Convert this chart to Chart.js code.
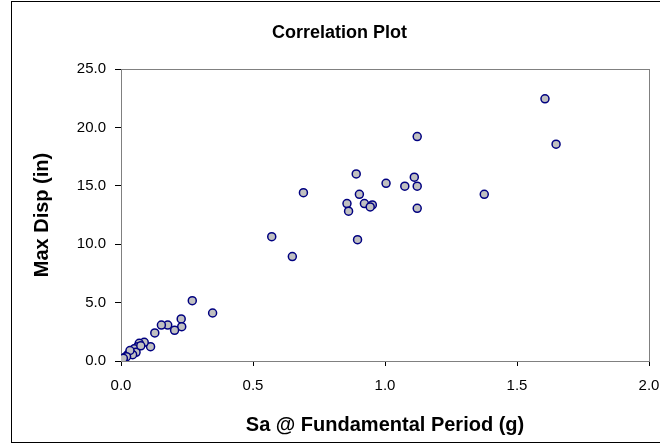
<!DOCTYPE html>
<html>
<head>
<meta charset="utf-8">
<script src="https://cdn.jsdelivr.net/npm/chart.js@4.4.1/dist/chart.umd.min.js"></script>
<style>
  html, body { margin: 0; padding: 0; background: #fff; }
  #wrap { width: 660px; height: 446px; position: relative; }
</style>
</head>
<body>
<div id="wrap"><canvas id="c"></canvas></div>
<script>
// Correlation plot: spectral acceleration vs. max displacement.
const FONT = "'Liberation Sans', Arial, Helvetica, sans-serif";
const INK = '#000000', FILL = '#C0C0C0', EDGE = '#000080', FRAME = '#808080';

const saValues = [
  1.606, 1.648, 1.122, 0.891, 1.111, 1.004, 0.691, 1.075, 1.122, 0.903,
  1.376, 0.856, 0.922, 0.952, 0.944, 0.862, 1.122, 0.571, 0.896, 0.649,
  0.270, 0.347, 0.228, 0.230, 0.203, 0.177, 0.153, 0.128, 0.112, 0.088,
  0.069, 0.063, 0.050, 0.057, 0.037, 0.026, 0.019, 0.011, 0.044, 0.034,
  0.021, 0.009, 0.075
];
const dispValues = [
  22.45, 18.57, 19.22, 16.02, 15.74, 15.22, 14.42, 14.97, 14.97, 14.28,
  14.28, 13.48, 13.48, 13.37, 13.20, 12.83, 13.08, 10.65, 10.39, 8.94,
  5.17, 4.11, 3.60, 2.94, 2.63, 3.08, 3.08, 2.40, 1.23, 1.60,
  1.52, 1.23, 1.05, 0.74, 0.66, 0.54, 0.37, 0.26, 0.54, 0.90,
  0.37, 0.23, 1.30
];
const xTicks = [0, 0.5, 1.0, 1.5, 2.0];
const yTicks = [0, 5, 10, 15, 20, 25];

// grey plot-area box + black outer frame (Excel look)
const framePlugin = {
  id: 'frames',
  beforeDatasetsDraw(chart) {
    const { ctx, chartArea: a } = chart;
    ctx.save();
    ctx.strokeStyle = FRAME; ctx.lineWidth = 1;
    ctx.strokeRect(Math.round(a.left) + 0.5, Math.round(a.top) + 0.5,
      Math.round(a.right - a.left), Math.round(a.bottom - a.top));
    ctx.restore();
  },
  afterDraw(chart) {
    const { ctx } = chart;
    ctx.save();
    ctx.strokeStyle = INK; ctx.lineWidth = 1;
    ctx.strokeRect(11.5, 1.5, 700, 441);
    ctx.restore();
  },
};

new Chart(document.getElementById('c'), {
  type: 'scatter',
  data: {
    datasets: [{
      data: saValues.map((x, i) => ({ x, y: dispValues[i] })),
      pointRadius: 4, pointHoverRadius: 4,
      pointBackgroundColor: FILL, pointBorderColor: EDGE, pointBorderWidth: 1.5,
    }],
  },
  plugins: [framePlugin],
  options: {
    responsive: true, maintainAspectRatio: false, animation: false,
    // left padding pushes the title centre right (chart frame runs past the crop)
    layout: { padding: { left: 30, right: 11, top: 0, bottom: 0 } },
    plugins: {
      legend: { display: false },
      tooltip: { enabled: false },
      title: {
        display: true, text: 'Correlation Plot', color: INK,
        font: { family: FONT, size: 18, weight: 'bold' },
        padding: { top: 22, bottom: 25.5 },
      },
    },
    scales: {
      x: {
        type: 'linear', min: 0, max: 2,
        afterBuildTicks: s => { s.ticks = xTicks.map(v => ({ value: v })); },
        afterFit: s => { s.height = 85; s.paddingLeft = 0; s.paddingRight = 0; },
        grid: { drawOnChartArea: false, drawTicks: true, tickLength: 5, color: INK },
        border: { color: INK, width: 1 },
        ticks: { color: INK, padding: 11, maxRotation: 0, font: { family: FONT, size: 15 }, callback: v => v.toFixed(1) },
        title: {
          display: true, text: 'Sa @ Fundamental Period (g)', color: INK,
          font: { family: FONT, size: 20, weight: 'bold' }, padding: { top: 0, bottom: 9 },
        },
      },
      y: {
        type: 'linear', min: 0, max: 25,
        afterBuildTicks: s => { s.ticks = yTicks.map(v => ({ value: v })); },
        afterFit: s => { s.width = 91; },
        grid: { drawOnChartArea: false, drawTicks: true, tickLength: 6, color: INK },
        border: { color: INK, width: 1 },
        ticks: { color: INK, padding: 9, font: { family: FONT, size: 15 }, callback: v => v.toFixed(1) },
        title: {
          display: true, text: 'Max Disp (in)', color: INK,
          font: { family: FONT, size: 20, weight: 'bold' }, padding: { top: 0, bottom: 0 },
        },
      },
    },
  },
});
</script>
</body>
</html>
